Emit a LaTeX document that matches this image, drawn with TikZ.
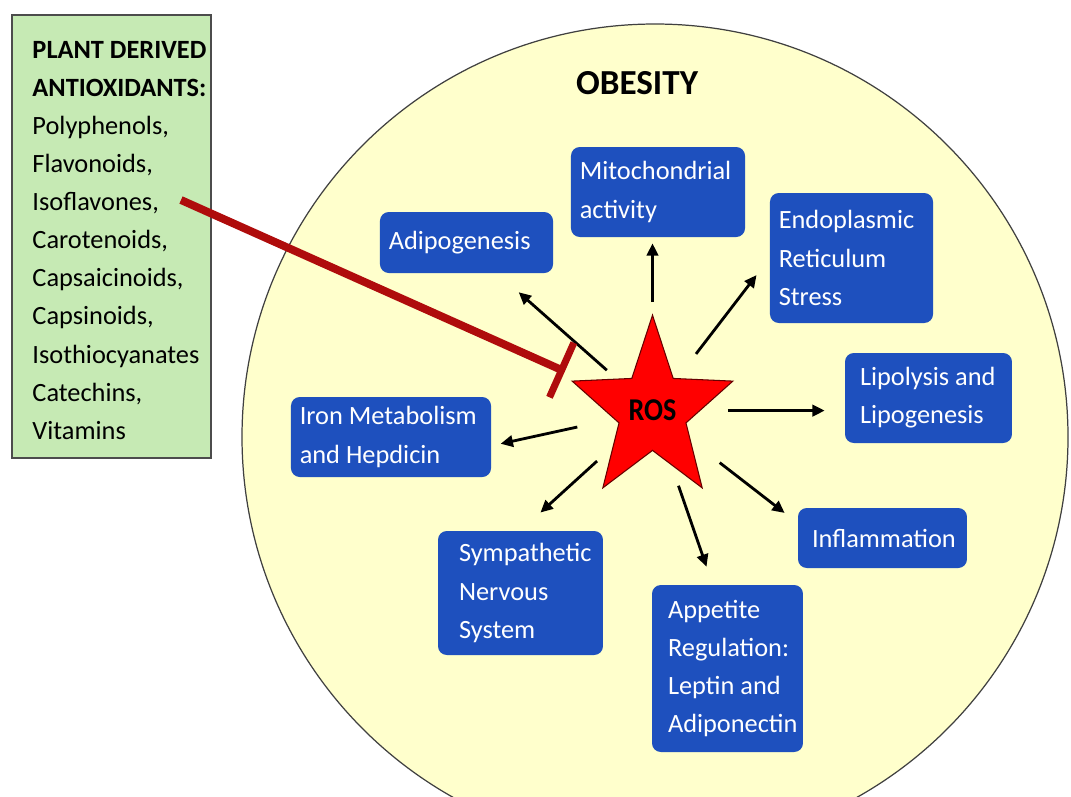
\documentclass[tikz,border=0pt]{standalone}
\usepackage{fontspec}
\setmainfont{Carlito}
\usetikzlibrary{shapes.geometric,arrows.meta,positioning}

\definecolor{circfill}{RGB}{255,255,204}
\definecolor{boxblue}{RGB}{30,80,190}
\definecolor{plantgreen}{RGB}{198,234,180}
\definecolor{inhred}{RGB}{175,12,12}
\definecolor{starred}{RGB}{255,0,0}

\tikzset{
    box/.style={fill=boxblue, rounded corners=5pt, text=white, align=flush left,
        inner xsep=5pt, inner ysep=0pt, font=\fontsize{15}{21.7}\selectfont},
    arr/.style={-{Triangle[length=7pt,width=6.5pt]}, line width=1.6pt},
    inhibit/.style={-{Bar[width=34pt,line width=4pt]}, line width=4.5pt, draw=inhred},
}

\begin{document}
\begin{tikzpicture}[x=0.02cm, y=-0.02cm]
    \useasboundingbox (0,0) rectangle (1071,796);
    % the obesity circle runs off the bottom of the page
    \begin{scope}
        \clip (0,0) rectangle (1071,796);
        \draw[fill=circfill, draw=black!75, line width=0.7pt] (655,437) circle[radius=413];
    \end{scope}

    % antioxidants
    \node[draw=black!70, line width=1pt, fill=plantgreen, minimum width=3.98cm, minimum height=8.86cm] (plantbox) at (111.5,236.5) {};
    \node[below right=0.53cm and 0.42cm of plantbox.north west, inner sep=0pt, text width=3.5cm, align=flush left,
        font=\fontsize{15}{21.7}\selectfont] (plantlist)
        {\textbf{PLANT DERIVED}\\ \textbf{ANTIOXIDANTS:}\\ Polyphenols,\\ Flavonoids,\\ Isoflavones,\\ Carotenoids,\\
         Capsaicinoids,\\ Capsinoids,\\ Isothiocyanates\\ Catechins,\\ Vitamins};
    \coordinate (inhstart) at (181,200);

    \node[font=\bfseries\fontsize{20}{24}\selectfont] (obesity) at (637,83) {OBESITY};

    \begin{scope}[shift={(652.5,410.6)}, yscale=1.13]
        \node[star, star points=5, star point ratio=2.4, minimum size=3.38cm, inner sep=0pt, fill=starred,
            draw=black!60!red, line width=0.6pt, transform shape, font=\bfseries\fontsize{16}{18}\selectfont] (ros) at (0,0) {ROS};
    \end{scope}

    \node[box, text width=3.11cm, minimum height=1.22cm] (adipo) at (466.5,242.5) {Adipogenesis};
    \node[box, text width=3.13cm, minimum height=1.8cm] (mito) at (658,192) {Mitochondrial\\ activity};
    \node[box, text width=2.91cm, minimum height=2.6cm] (endo) at (851.5,258) {Endoplasmic\\ Reticulum\\ Stress};
    \node[box, inner xsep=0.3cm, text width=2.74cm, minimum height=1.8cm] (lipo) at (928.5,398) {Lipolysis and\\ Lipogenesis};
    \node[box, inner xsep=0.28cm, text width=2.82cm, minimum height=1.2cm] (inflam) at (882.5,538) {Inflammation};
    \node[box, inner xsep=0.32cm, text width=2.38cm, minimum height=3.34cm] (appet) at (727.5,668.5) {Appetite\\ Regulation:\\ Leptin and\\ Adiponectin};
    \node[box, inner xsep=0.42cm, text width=2.46cm, minimum height=2.48cm] (symp) at (520.5,593) {Sympathetic\\ Nervous\\ System};
    \node[box, text width=3.65cm, minimum height=1.6cm] (iron) at (391,437) {Iron Metabolism\\ and Hepdicin};

    \draw[arr, shorten <=1.22cm, shorten >=0.57cm] (ros.center) -- (adipo.-45);
    \draw[arr, shorten <=2.17cm, shorten >=0.12cm] (ros.center) -- (mito.south -| ros.center);
    \draw[arr, shorten <=1.43cm, shorten >=0.43cm] (ros.center) -- (endo.west);
    \draw[arr, shorten <=1.51cm, shorten >=0.4cm] (ros.center) -- (lipo.west |- ros.center);
    \draw[arr, shorten <=1.7cm, shorten >=0.33cm] (ros.center) -- (inflam.170);
    \draw[arr, shorten <=1.59cm, shorten >=0.38cm] (ros.center) -- (appet.100);
    \draw[arr, shorten <=1.5cm, shorten >=0.54cm] (ros.center) -- (symp.north);
    \draw[arr, shorten <=1.54cm, shorten >=0.19cm] (ros.center) -- (iron.-5);

    \draw[inhibit, shorten >=1.92cm] (inhstart) -- (ros.center);
\end{tikzpicture}
\end{document}
